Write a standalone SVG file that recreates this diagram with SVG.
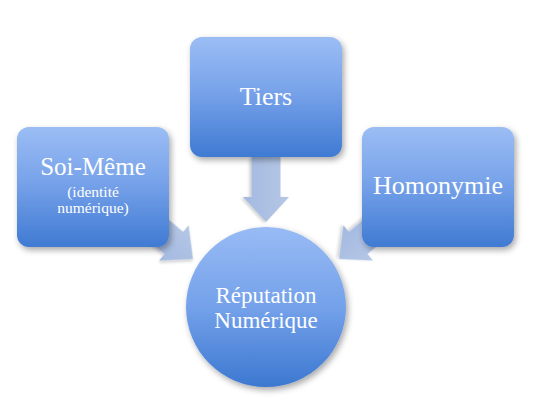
<svg xmlns="http://www.w3.org/2000/svg" width="550" height="405" viewBox="0 0 550 405">
  <defs>
    <linearGradient id="gBox" x1="0" y1="0" x2="0" y2="1">
      <stop offset="0" stop-color="#9bbdf4"/>
      <stop offset="0.45" stop-color="#78a3ea"/>
      <stop offset="1" stop-color="#3f7ad2"/>
    </linearGradient>
    <linearGradient id="gCirc" x1="0" y1="0" x2="0" y2="1">
      <stop offset="0" stop-color="#98bbf4"/>
      <stop offset="0.5" stop-color="#74a1ea"/>
      <stop offset="1" stop-color="#3c78d0"/>
    </linearGradient>
    <linearGradient id="gArrow" x1="0" y1="0" x2="0" y2="1">
      <stop offset="0" stop-color="#b5c7e6"/>
      <stop offset="1" stop-color="#a3b9e0"/>
    </linearGradient>
    <filter id="shadow" x="-20%" y="-20%" width="140%" height="140%">
      <feDropShadow dx="2" dy="3" stdDeviation="3" flood-color="#000" flood-opacity="0.35"/>
    </filter>
    <filter id="ashadow" x="-20%" y="-20%" width="140%" height="140%">
      <feDropShadow dx="1" dy="2" stdDeviation="1.5" flood-color="#000" flood-opacity="0.2"/>
    </filter>
    <path id="arrowShape" d="M0,-14.5 L40,-14.5 L40,-23 L65,0 L40,23 L40,14.5 L0,14.5 Z"/>
  </defs>
  <style>
    .box { fill: url(#gBox); filter: url(#shadow); }
    .circ { fill: url(#gCirc); filter: url(#shadow); }
    .arrow { fill: url(#gArrow); filter: url(#ashadow); }
    .big { font-family: "Liberation Serif", "DejaVu Serif", serif; fill: #ffffff; text-anchor: middle; }
  </style>

  <g id="connectors">
    <use href="#arrowShape" class="arrow" transform="translate(266,157) rotate(90)"/>
    <use href="#arrowShape" class="arrow" transform="translate(193,259) rotate(40) translate(-65,0)"/>
    <use href="#arrowShape" class="arrow" transform="translate(339,259) rotate(140) translate(-65,0)"/>
  </g>

  <g id="node-soi-meme">
    <rect class="box" x="17" y="127" width="152" height="120" rx="12"/>
    <text class="big" x="93" y="175" font-size="25">Soi-Même</text>
    <text class="big" x="93" y="197" font-size="15.5">(identité</text>
    <text class="big" x="93" y="213" font-size="15.5">numérique)</text>
  </g>

  <g id="node-tiers">
    <rect class="box" x="190" y="37" width="152" height="120" rx="12"/>
    <text class="big" x="266" y="105" font-size="26">Tiers</text>
  </g>

  <g id="node-homonymie">
    <rect class="box" x="362" y="127" width="152" height="120" rx="12"/>
    <text class="big" x="438" y="194" font-size="26">Homonymie</text>
  </g>

  <g id="node-reputation">
    <circle class="circ" cx="266" cy="307" r="80"/>
    <text class="big" x="266" y="303" font-size="23">Réputation</text>
    <text class="big" x="266" y="328" font-size="23">Numérique</text>
  </g>
</svg>
